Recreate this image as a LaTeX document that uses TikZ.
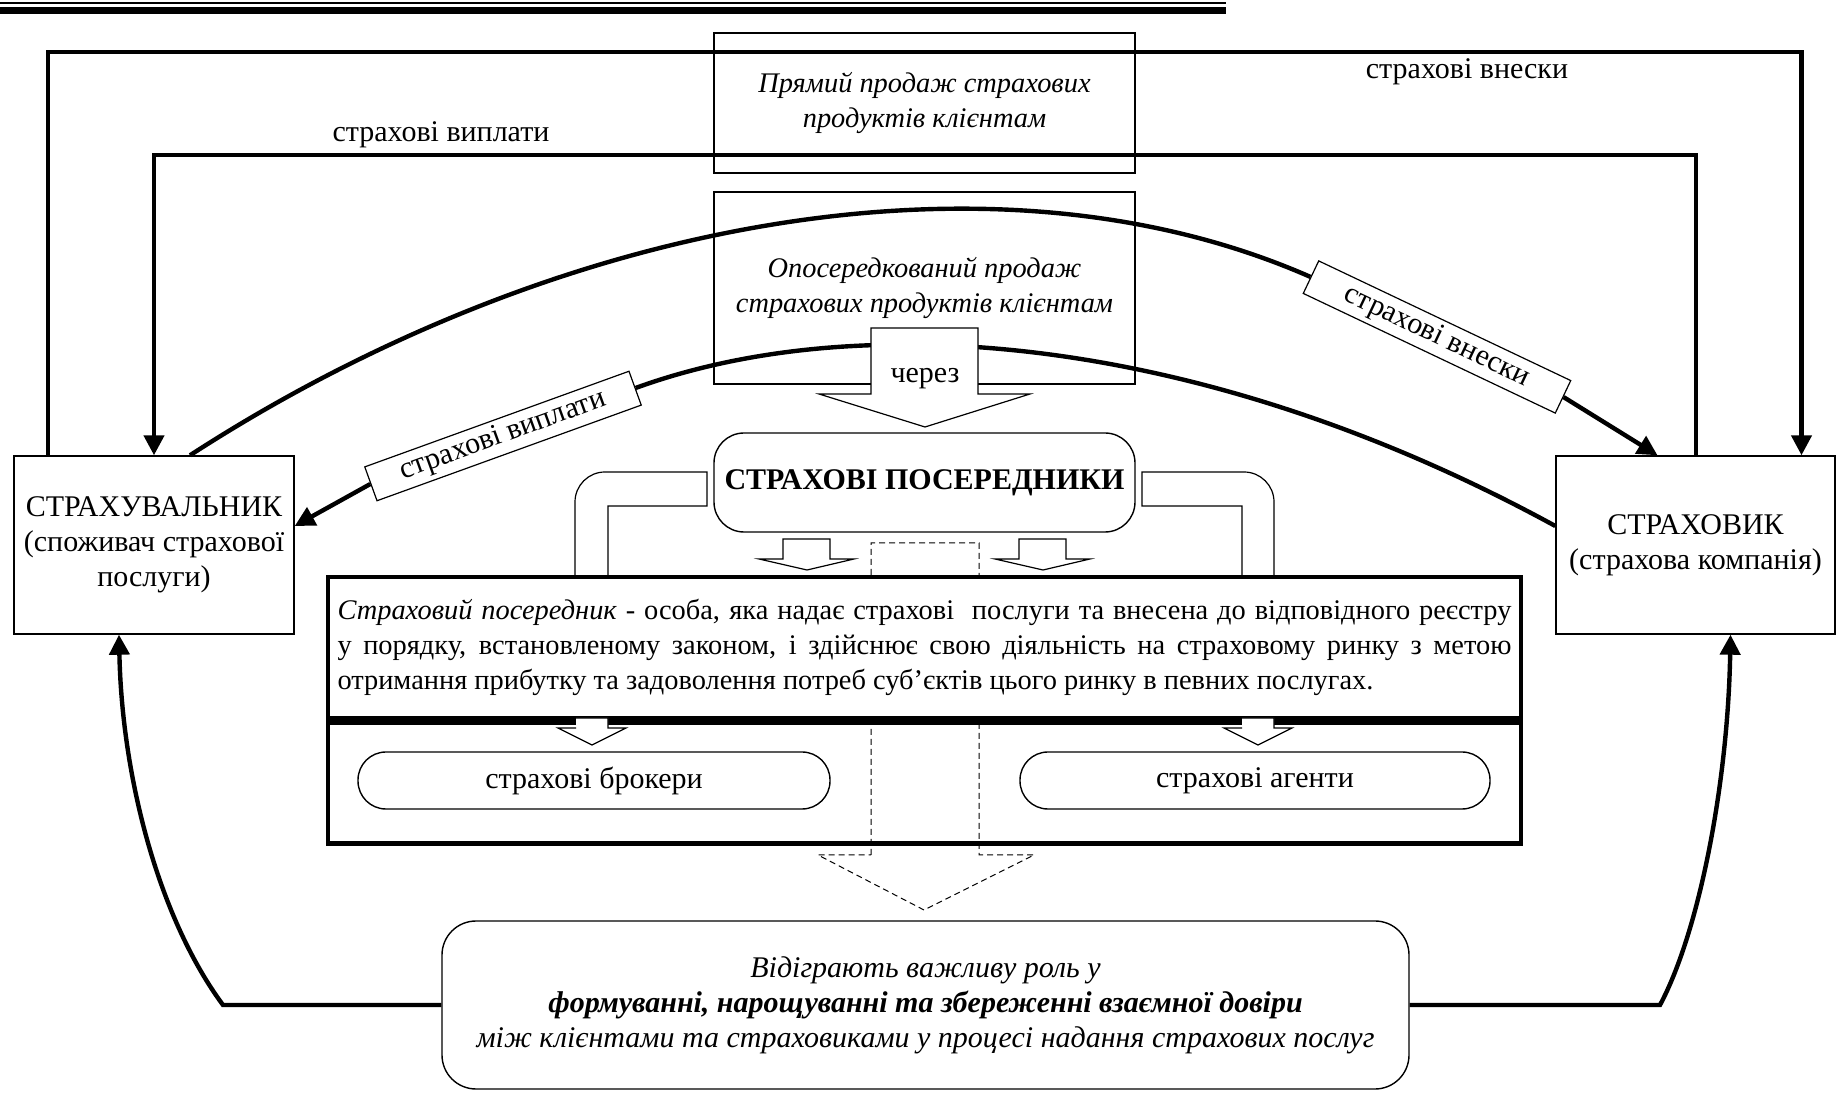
\documentclass[tikz,border=0pt]{standalone}
\usepackage{fontspec}
\setmainfont{Liberation Serif}
\usetikzlibrary{arrows.meta}
\newcommand{\diagfont}{\fontsize{15}{17.5}\selectfont}
\newcommand{\notefont}{\fontsize{14.2}{17.5}\selectfont}
\begin{document}
\begin{tikzpicture}[x=0.5pt, y=-0.5pt, inner sep=0pt,
    every node/.style={font=\diagfont},
    thinbox/.style={draw, line width=0.7pt, align=center},
    party/.style={thinbox, minimum width=140pt, minimum height=89pt},
    sale/.style={thinbox, minimum width=210.5pt, font=\notefont\itshape},
    pill/.style={thinbox, rounded corners=14pt, minimum height=28.5pt},
    tag/.style={draw, fill=white, line width=0.6pt, minimum height=18pt},
    flow/.style={line width=2.2pt},
    arrowed/.style={-{Triangle[length=10pt, width=10pt]}},
    hollow/.style={draw, fill=white, line width=0.6pt},
    ghost/.style={line width=0.5pt, dash pattern=on 3pt off 2pt}]
    \useasboundingbox (0,0) rectangle (1843,1095);
    \fill (0,2) rectangle (1226,4.5);
    \fill (0,7) rectangle (1226,14);

    \node[party] (insured) at (154,545) {СТРАХУВАЛЬНИК\\(споживач страхової\\послуги)};
    \node[party, minimum width=139.5pt] (insurer) at (1695.5,545) {СТРАХОВИК\\(страхова компанія)};
    \node[sale, minimum height=70pt] (direct) at (924.5,103) {Прямий продаж страхових\\продуктів клієнтам};
    \node[sale, minimum height=96pt] (indirect) at (924.5,288) {Опосередкований продаж\\страхових продуктів клієнтам};
    \node (topfee) at (1467,72) {страхові внески};
    \node (toppay) at (441,135) {страхові виплати};

    \draw[flow, arrowed] ([xshift=-53pt]insured.north) -- ++(0,-403) -| ([xshift=53pt]insurer.north);
    \draw[flow, arrowed] ([xshift=0.25pt]insurer.north) -- ++(0,-300) -| (insured.north);

    \node[tag, rotate=-25.4, minimum width=139.5pt] (fees) at (1437,337) {страхові внески};
    \node[tag, rotate=19.9, minimum width=140.5pt] (payout) at (503,436) {страхові виплати};
    \draw[flow] ([xshift=18pt]insured.north) .. controls (550,222) and (990,136) .. (fees.west);
    \draw[flow, arrowed] (fees.east) -- ([xshift=-19pt]insurer.north);
    \draw[flow] ([yshift=9.5pt]insurer.west) .. controls (1204,334) and (861,306) .. (payout.east);
    \draw[flow, arrowed] (payout.west) -- ([yshift=9.5pt]insured.east);

    \draw[hollow] (871,328) -- (978,328) -- (978,394) -- (1030,394) -- (925,427) -- (819,394) -- (871,394) -- cycle;
    \node (via) at (925,379) {через};

    \node[thinbox, rounded corners=15pt, minimum width=210.5pt, minimum height=49.5pt, font=\diagfont\bfseries] (interm) at (924.5,482.5) {СТРАХОВІ ПОСЕРЕДНИКИ};

    \draw[line width=0.6pt] (608,577) -- (608,506) -- (707,506) -- (707,472) -- (605,472) arc[start angle=90, end angle=180, radius=15pt] -- (575,577);
    \draw[line width=0.6pt] (1242,577) -- (1242,506) -- (1142,506) -- (1142,472) -- (1244,472) arc[start angle=90, end angle=0, radius=15pt] -- (1274,577);
    \foreach \cx in {807,1043}
        \draw[hollow] (\cx-24,539) -- (\cx+23,539) -- (\cx+23,559) -- (\cx+47,559) -- (\cx,570) -- (\cx-48,559) -- (\cx-24,559) -- cycle;

    \draw[ghost] (871,855) -- (871,543) -- (979,543) -- (979,855) -- (1034,855) -- (924,910) -- (818,855) -- cycle;

    \node[draw, fill=white, line width=2.2pt, minimum width=596.5pt, minimum height=70.5pt, text width=587pt, align=justify, font=\notefont] (defn) at (924.5,647.5) {\textit{Страховий посередник} - особа, яка надає страхові \ послуги та внесена до відповідного реєстру\linebreak у порядку, встановленому законом, і здійснює свою діяльність на страховому ринку з метою\linebreak отримання прибутку та задоволення потреб суб’єктів цього ринку в певних послугах.};
    \node[draw, line width=2.2pt, minimum width=596.5pt, minimum height=60.5pt, anchor=north] (kinds) at (defn.south) {};
    \foreach \cx in {592,1258}
        \draw[hollow] (\cx-16,718) -- (\cx+16,718) -- (\cx+16,728) -- (\cx+34,728) -- (\cx,745) -- (\cx-34,728) -- (\cx-16,728);
    \node[pill, minimum width=236pt] (brokers) at (594,780.5) {страхові брокери};
    \node[pill, minimum width=235pt] (agents) at (1255,780.5) {страхові агенти};

    \node[thinbox, rounded corners=17pt, minimum width=483.5pt, minimum height=84pt, font=\diagfont\itshape] (role) at (925.5,1005) {Відіграють важливу роль у\\\textbf{формуванні, нарощуванні та збереженні взаємної довіри}\\між клієнтами та страховиками у процесі надання страхових послуг};
    \draw[flow, arrowed] (role.west) -- (223,1005) .. controls (160,920) and (122,780) .. ([xshift=-17.5pt]insured.south);
    \draw[flow, arrowed] (role.east) -- (1660,1005) .. controls (1700,930) and (1728,780) .. ([xshift=17.5pt]insurer.south);
\end{tikzpicture}
\end{document}
